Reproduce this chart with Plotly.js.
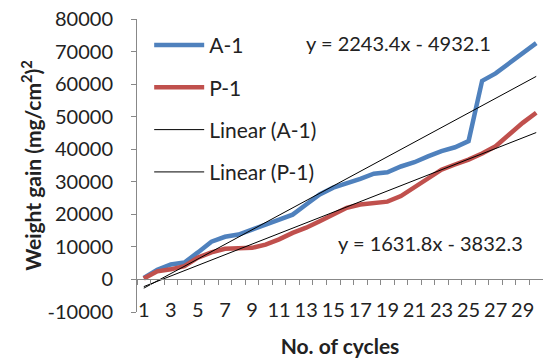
<!DOCTYPE html>
<html>
<head>
<meta charset="utf-8">
<script src="https://cdn.plot.ly/plotly-3.0.1.min.js"></script>
<style>html,body{margin:0;padding:0;background:#fff;}#chart{width:543px;height:358px;}</style>
</head>
<body>
<div id="chart"></div>
<script>
const cycles = [1,2,3,4,5,6,7,8,9,10,11,12,13,14,15,16,17,18,19,20,21,22,23,24,25,26,27,28,29,30];
const seriesA1 = [500,3000,4600,5200,8300,11600,13100,13800,15300,16900,18400,19900,23000,26100,28200,29400,30900,32500,32900,34700,36000,37800,39400,40600,42500,61000,63300,66400,69500,72600];
const seriesP1 = [300,2500,3100,4100,6700,8300,9400,9700,9700,10700,12300,14300,15900,17900,19900,22000,23000,23500,23900,25600,28200,30700,33700,35300,36800,38700,40900,44500,48100,51200];
const trendSlopes = [2243.4, 1631.8];
const trendIntercepts = [-4932.1, -3832.3];
const trendLabels = ["y = 2243.4x - 4932.1", "y = 1631.8x - 3832.3"];
const tickLabels = ["1","3","5","7","9","11","13","15","17","19","21","23","25","27","29"];
const yTicks = [-10000,0,10000,20000,30000,40000,50000,60000,70000,80000];

const font = "Lato, 'Open Sans', sans-serif";
const txt = "#222";
const xFirst = cycles[0], xLast = cycles[cycles.length-1];
function trend(i){ return [xFirst, xLast].map(x => trendSlopes[i]*x + trendIntercepts[i]); }

const traces = [
  {x: cycles, y: seriesA1, name: "A-1", mode: "lines", line: {color: "#4F81BD", width: 4.5}, legendgroup: "a"},
  {x: cycles, y: seriesP1, name: "P-1", mode: "lines", line: {color: "#C0504D", width: 4.5}, legendgroup: "b"},
  {x: [xFirst, xLast], y: trend(0), name: "Linear (A-1)", mode: "lines", line: {color: "#000", width: 1}, legendgroup: "c"},
  {x: [xFirst, xLast], y: trend(1), name: "Linear (P-1)", mode: "lines", line: {color: "#000", width: 1}, legendgroup: "d"},
  {x: [null], y: [null], xaxis: "x2", showlegend: false, hoverinfo: "skip", mode: "lines"}
];

const halfTicks = [];
for (let k = 0; k <= cycles.length; k++) halfTicks.push(cycles[0] - 0.5 + k);

const layout = {
  width: 543, height: 358,
  margin: {l: 137, r: 0, t: 19, b: 46},
  paper_bgcolor: "#fff", plot_bgcolor: "#fff",
  font: {family: font, size: 20, color: txt},
  showlegend: true,
  legend: {x: 0.03, y: 0.98, xanchor: "left", yanchor: "top", bgcolor: "rgba(0,0,0,0)", traceorder: "grouped", tracegroupgap: 12, itemwidth: 50, font: {family: font, size: 21, color: txt}},
  xaxis: {
    range: [0.5, 30.5], tickmode: "array", tickvals: tickLabels.map(Number), ticktext: tickLabels,
    anchor: "free", position: 0.055,
    showline: false, showgrid: false, zeroline: false, ticks: "",
    tickfont: {family: font, size: 20, color: txt},
    title: {text: "<b>No. of cycles</b>", font: {family: font, size: 21, color: txt}, standoff: 24}
  },
  xaxis2: {
    overlaying: "x", anchor: "free", position: 10000/90000, range: [0.5, 30.5],
    tickmode: "array", tickvals: halfTicks, showticklabels: false, ticks: "outside", ticklen: 5, tickcolor: "#888",
    showline: true, linecolor: "#888", linewidth: 1, showgrid: false, zeroline: false
  },
  yaxis: {
    range: [-10000, 80000], tickmode: "array", tickvals: yTicks, ticktext: yTicks.map(String),
    showline: true, linecolor: "#888", linewidth: 1, ticks: "outside", ticklen: 5, tickcolor: "#888",
    showgrid: false, zeroline: false, ticklabelstandoff: 14,
    tickfont: {family: font, size: 20, color: txt},
    title: {text: "<b>Weight gain (mg/cm<sup>2</sup>)<sup>2</sup></b>", font: {family: font, size: 21, color: txt}, standoff: 0}
  },
  annotations: [
    {xref: "paper", yref: "paper", xanchor: "center", yanchor: "middle", x: (398-137)/406, y: (312-43)/293, text: trendLabels[0], showarrow: false, font: {family: font, size: 20, color: txt}},
    {xref: "paper", yref: "paper", xanchor: "center", yanchor: "middle", x: (430-137)/406, y: (312-243)/293, text: trendLabels[1], showarrow: false, font: {family: font, size: 20, color: txt}}
  ]
};

Plotly.newPlot("chart", traces, layout, {displayModeBar: false, staticPlot: true});
</script>
</body>
</html>
